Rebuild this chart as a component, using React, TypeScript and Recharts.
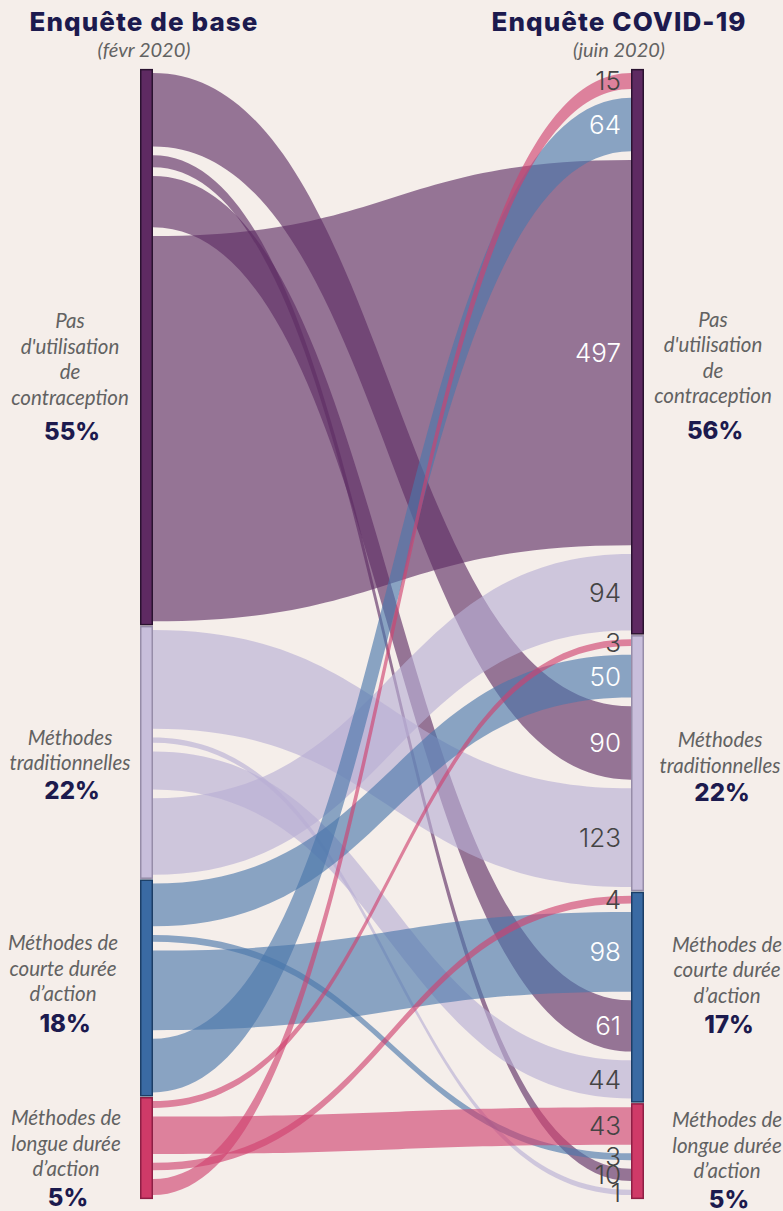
import React from 'react';
import { Sankey } from 'recharts';

// ---------- DATA ----------
const categories = [
  "Pas d'utilisation de contraception",
  'Méthodes traditionnelles',
  'Méthodes de courte durée d’action',
  'Méthodes de longue durée d’action',
];
const categoryLines = [
  ['Pas', "d'utilisation", 'de', 'contraception'],
  ['Méthodes', 'traditionnelles'],
  ['Méthodes de', 'courte durée', 'd’action'],
  ['Méthodes de', 'longue durée', 'd’action'],
];
const basePct = ['55%', '22%', '18%', '5%'];
const covidPct = ['56%', '22%', '17%', '5%'];
const baseTitle = 'Enquête de base';
const baseSubtitle = '(févr 2020)';
const covidTitle = 'Enquête COVID-19';
const covidSubtitle = '(juin 2020)';

// flows from each baseline category to [pas, trad, courte, longue] at COVID survey
const flowsFromPas = [497, 90, 61, 10];
const flowsFromTrad = [94, 123, 44, 1];
const flowsFromCourte = [64, 50, 98, 3];
const flowsFromLongue = [15, 3, 4, 43];
// order in which flows are stacked inside each bar
const baseStackOrder = [1, 3, 2, 0];
const covidStackOrder = [3, 2, 0, 1];

// ---------- STYLE ----------
const BG = '#f5eeea';
const nodeFill = ['#5e2a62', '#c8bedb', '#3a6aa3', '#cf3a68'];
const nodeStroke = ['#2a1230', '#968ca8', '#1c3e66', '#8e1f45'];
const linkFill = ['#5e2c64', '#b8afd4', '#4a76ab', '#d0416f'];
const LINK_OPACITY = 0.63;
const PAD = 13.2;
const EXTRA = 2.25;
const NODE_W = 13;
const leftLabelShift = [29, 11, -5, 9];
const rightLabelShift = [23, 3, -13, 8];
const leftLabelDx = [-70, -70, -77, -74];
const rightLabelDx = [69, 76, 83, 83];
const pctGap = [35, 28, 30, 29];

const flows = [flowsFromPas, flowsFromTrad, flowsFromCourte, flowsFromLongue];
const sum = (a: number[]) => a.reduce((p, c) => p + c, 0);

const nodes: any[] = [];
const leftIndex: Record<string, number> = {};
const rightIndex: Record<string, number> = {};
for (let s = 0; s < flows.length; s++) {
  baseStackOrder.forEach((t, k) => {
    leftIndex[`${s}-${t}`] = nodes.length;
    nodes.push({
      name: `${categories[s]} → ${categories[t]}`,
      side: 'L', group: s, s, t,
      first: k === 0, count: baseStackOrder.length,
      groupTotal: sum(flows[s]),
    });
  });
}
for (let t = 0; t < categories.length; t++) {
  covidStackOrder.forEach((s, k) => {
    rightIndex[`${s}-${t}`] = nodes.length;
    nodes.push({
      name: `${categories[s]} → ${categories[t]}`,
      side: 'R', group: t, s, t,
      first: k === 0, count: covidStackOrder.length,
      groupTotal: sum(flows.map((f) => f[t])),
    });
  });
}
const links: any[] = [];
for (let s = 0; s < flows.length; s++) {
  for (let t = 0; t < flows[s].length; t++) {
    links.push({ source: leftIndex[`${s}-${t}`], target: rightIndex[`${s}-${t}`], value: flows[s][t], s, t });
  }
}

const CatLabel = ({ cx, cy, lines, pct, gap }: any) => {
  const lh = 25.5;
  const total = (lines.length - 1) * lh + gap;
  const start = cy - total / 2;
  return (
    <g>
      {lines.map((l: string, i: number) => (
        <text key={i} x={cx} y={start + i * lh} textAnchor="middle" dominantBaseline="central"
          fontFamily="Lato, sans-serif" fontStyle="italic" fontSize={20.5} fill="#626262">{l}</text>
      ))}
      <text x={cx + 2} y={start + (lines.length - 1) * lh + gap} textAnchor="middle" dominantBaseline="central"
        fontFamily="Inter, sans-serif" fontWeight={800} fontSize={24} fill="#1c1a4e">{pct}</text>
    </g>
  );
};

const NodeShape = (props: any) => {
  const { x, y, width, height, payload } = props;
  const g = payload.group;
  const valueLabel = payload.side === 'R' ? (
    <text x={x - 10} y={y + height / 2} textAnchor="end" dominantBaseline="central"
      fontFamily="Inter, sans-serif" fontWeight={300} fontSize={26}
      fill={(payload.s === 0 || payload.s === 2) && payload.value >= 20 ? '#ffffff' : '#444444'}>
      {payload.value}
    </text>
  ) : null;
  if (!payload.first) return <g>{valueLabel}</g>;
  const ratio = height / payload.value;
  const groupH = ratio * payload.groupTotal + (payload.count - 1) * PAD;
  const top = y - (PAD / 2 - 1);
  const h = groupH + PAD - 2;
  const cy = y + groupH / 2;
  const isLeft = payload.side === 'L';
  return (
    <g>
      <rect x={x + 0.75} y={top} width={width - 1.5} height={h} fill={nodeFill[g]} stroke={nodeStroke[g]} strokeWidth={1.5} />
      {valueLabel}
      <CatLabel
        cx={isLeft ? x + leftLabelDx[g] : x + width + rightLabelDx[g]}
        cy={cy + (isLeft ? leftLabelShift[g] : rightLabelShift[g])}
        lines={categoryLines[g]}
        pct={isLeft ? basePct[g] : covidPct[g]}
        gap={pctGap[g]}
      />
    </g>
  );
};

const LinkShape = (props: any) => {
  const { sourceX, targetX, sourceY, targetY, sourceControlX, targetControlX, linkWidth, index } = props;
  const s = links[index] ? links[index].s : 0;
  const w = linkWidth / 2 + EXTRA;
  const d = `M${sourceX},${sourceY - w} C${sourceControlX},${sourceY - w} ${targetControlX},${targetY - w} ${targetX},${targetY - w} L${targetX},${targetY + w} C${targetControlX},${targetY + w} ${sourceControlX},${sourceY + w} ${sourceX},${sourceY + w} Z`;
  return <path d={d} fill={linkFill[s]} fillOpacity={LINK_OPACITY} stroke="none" />;
};

const titleStyle: React.CSSProperties = {
  position: 'absolute', transform: 'translateX(-50%)', whiteSpace: 'nowrap',
  fontFamily: 'Inter, sans-serif', fontWeight: 800, fontSize: 26, letterSpacing: 1.1, color: '#1c1a4e', lineHeight: '30px',
};
const subStyle: React.CSSProperties = {
  position: 'absolute', transform: 'translateX(-50%)', whiteSpace: 'nowrap',
  fontFamily: 'Lato, sans-serif', fontStyle: 'italic', fontSize: 20, color: '#626262', lineHeight: '22px',
};

export default function App() {
  return (
    <div style={{ position: 'absolute', left: 0, top: 0, width: 783, height: 1211, background: BG, overflow: 'hidden' }}>
      <Sankey
        width={783}
        height={1211}
        data={{ nodes, links }}
        nodeWidth={NODE_W}
        nodePadding={PAD}
        iterations={0}
        sort={false}
        linkCurvature={0.5}
        margin={{ left: 140, right: 139, top: 75.25, bottom: 18.25 }}
        node={<NodeShape />}
        link={<LinkShape />}
      />
      <div style={{ ...titleStyle, left: 144, top: 7 }}>{baseTitle}</div>
      <div style={{ ...subStyle, left: 144, top: 38 }}>{baseSubtitle}</div>
      <div style={{ ...titleStyle, left: 619, top: 7 }}>{covidTitle}</div>
      <div style={{ ...subStyle, left: 619, top: 38 }}>{covidSubtitle}</div>
    </div>
  );
}
